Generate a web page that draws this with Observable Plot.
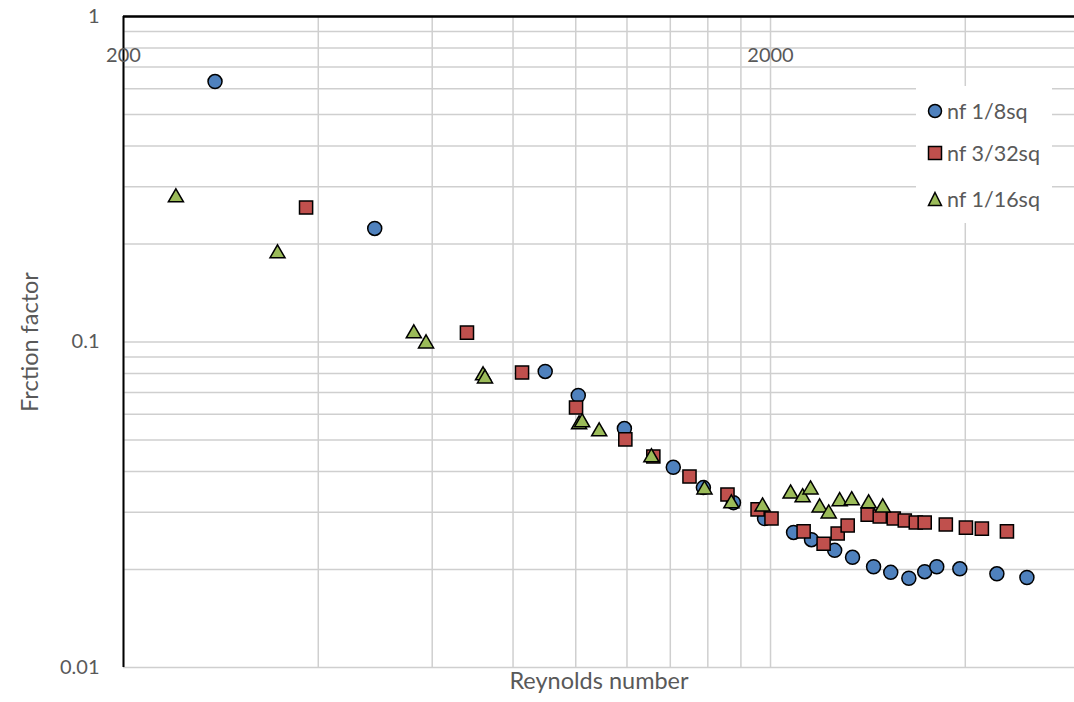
<!DOCTYPE html>
<html>
<head>
<meta charset="utf-8">
<script src="https://cdn.jsdelivr.net/npm/d3@7"></script>
<script src="https://cdn.jsdelivr.net/npm/@observablehq/plot@0.6"></script>
<style>
  html, body { margin: 0; padding: 0; background: #fff; }
  #wrap { position: relative; width: 1074px; height: 702px; overflow: hidden; font-family: Lato, "Open Sans", sans-serif; }
  #legend { position: absolute; left: 916px; top: 86px; width: 136px; height: 137px; background: #fff; }
  .item { position: absolute; left: 12px; display: flex; align-items: center; color: #595959; font-size: 21.5px; white-space: nowrap; }
  .item svg { margin-right: 5px; overflow: visible; }
</style>
</head>
<body>
<div id="wrap"></div>
<script>
// Series names
const seriesNames = ["nf 1/8sq", "nf 3/32sq", "nf 1/16sq"];
const seriesColors = ["#4F81BD", "#C0504D", "#9BBB59"];

// nf 1/8sq (blue circles)
const re18 = [277, 489, 897, 1009, 1189, 1415, 1575, 1753, 1958, 2171, 2314, 2513, 2678, 2886, 3068, 3272, 3462, 3614, 3923, 4476, 4981];
const f18  = [0.631, 0.2233, 0.0812, 0.0685, 0.0542, 0.0412, 0.0357, 0.0321, 0.0287, 0.0260, 0.0247, 0.0229, 0.0218, 0.0204, 0.0196, 0.0188, 0.0197, 0.0204, 0.0201, 0.0194, 0.0189];

// nf 3/32sq (red squares)
const re332 = [383, 679, 826, 1001, 1193, 1318, 1499, 1716, 1910, 2007, 2250, 2416, 2540, 2632, 2826, 2950, 3101, 3225, 3354, 3462, 3732, 4009, 4243, 4639];
const f332  = [0.2589, 0.1069, 0.0806, 0.0629, 0.0502, 0.0445, 0.0386, 0.0340, 0.0306, 0.0287, 0.0262, 0.0240, 0.0258, 0.0273, 0.0295, 0.0291, 0.0287, 0.0283, 0.0279, 0.0279, 0.0275, 0.0269, 0.0267, 0.0262];

// nf 1/16sq (green triangles)
const re116 = [241, 346, 562, 587, 719, 724, 1012, 1023, 1087, 1309, 1581, 1740, 1944, 2148, 2242, 2306, 2382, 2460, 2558, 2670, 2836, 2982];
const f116  = [0.278, 0.187, 0.1062, 0.0989, 0.0789, 0.0772, 0.0558, 0.0566, 0.0531, 0.0442, 0.0352, 0.0319, 0.0312, 0.0342, 0.0333, 0.0352, 0.0310, 0.0297, 0.0324, 0.0326, 0.0319, 0.0310];

// Axis ticks and gridlines
const xTicks = [200, 2000];
const yTicks = [0.01, 0.1, 1];
const xGrid = [200, 400, 600, 800, 1000, 1200, 1400, 1600, 1800, 2000, 4000];
const yGrid = [0.01, 0.02, 0.03, 0.04, 0.05, 0.06, 0.07, 0.08, 0.09, 0.1, 0.2, 0.3, 0.4, 0.5, 0.6, 0.7, 0.8, 0.9, 1];
const xTitle = "Reynolds number";
const yTitle = "Frction factor";

const toRows = (xs, ys) => xs.map((x, i) => ({x, y: ys[i]}));
const d18 = toRows(re18, f18);
const d332 = toRows(re332, f332);
const d116 = toRows(re116, f116);

const grey = "#595959";
const gridColor = "#cfcfcf";

const chart = Plot.plot({
  width: 1074,
  height: 702,
  marginLeft: 123,
  marginTop: 16,
  marginBottom: 35,
  marginRight: 0,
  style: { background: "#fff", fontFamily: "Lato, 'Open Sans', sans-serif", overflow: "visible" },
  x: { type: "log", domain: [200, 5900] },
  y: { type: "log", domain: [0.01, 1] },
  marks: [
    Plot.gridX(xGrid, { stroke: gridColor, strokeOpacity: 1, strokeWidth: 1.5 }),
    Plot.gridY(yGrid, { stroke: gridColor, strokeOpacity: 1, strokeWidth: 1.5 }),
    Plot.ruleX([200], { stroke: "#000", strokeWidth: 2 }),
    Plot.ruleY([1], { stroke: "#000", strokeWidth: 2.5 }),
    Plot.axisY({ ticks: yTicks, tickFormat: d => String(d), tickSize: 0, tickPadding: 24, fontSize: 20, color: grey, label: null }),
    Plot.axisX({ ticks: [], label: null }),
    Plot.text(xTicks, { x: d => d, frameAnchor: "top", dy: 31, text: d => String(d), fontSize: 20, fill: grey }),
    Plot.text([xTitle], { frameAnchor: "bottom", dy: 21, text: d => d, fontSize: 23.5, fill: grey }),
    Plot.text([yTitle], { frameAnchor: "left", textAnchor: "middle", dx: -93, rotate: -90, text: d => d, fontSize: 23.5, fill: grey }),
    Plot.dot(d18, { x: "x", y: "y", symbol: "circle", r: 7, fill: seriesColors[0], stroke: "#000", strokeWidth: 1.5 }),
    Plot.dot(d332, { x: "x", y: "y", symbol: "square", r: 7.4, fill: seriesColors[1], stroke: "#000", strokeWidth: 1.5 }),
    Plot.dot(d116, { x: "x", y: "y", symbol: "triangle", r: 5.6, fill: seriesColors[2], stroke: "#000", strokeWidth: 1.5 })
  ]
});

const wrap = document.getElementById("wrap");
wrap.appendChild(chart);

// Legend
const legend = document.createElement("div");
legend.id = "legend";
const shapes = [
  '<circle cx="7" cy="7" r="6.5" fill="' + seriesColors[0] + '" stroke="#000" stroke-width="1.5"/>',
  '<rect x="0.5" y="0.5" width="13" height="13" fill="' + seriesColors[1] + '" stroke="#000" stroke-width="1.5"/>',
  '<polygon points="7,0.5 13.5,13.5 0.5,13.5" fill="' + seriesColors[2] + '" stroke="#000" stroke-width="1.5"/>'
];
const tops = [26, 68, 114];
seriesNames.forEach((name, i) => {
  const it = document.createElement("div");
  it.className = "item";
  it.style.top = (tops[i] - 14) + "px";
  it.innerHTML = '<svg width="14" height="14">' + shapes[i] + '</svg><span>' + name + '</span>';
  legend.appendChild(it);
});
wrap.appendChild(legend);
</script>
</body>
</html>
